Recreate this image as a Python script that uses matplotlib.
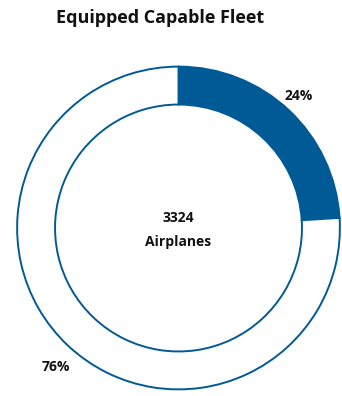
import matplotlib
matplotlib.use("Agg")
import matplotlib.pyplot as plt

# data
labels = ["Equipped", "Not equipped"]
shares = [24, 76]
total_airplanes = 3324
title = "Equipped Capable Fleet"

blue = "#005a96"
plt.rcParams["font.family"] = ["Open Sans", "DejaVu Sans"]

fig = plt.figure(figsize=(3.42, 3.96), dpi=100)
W, H = 342, 396
cx, cy, r = 178.5, 228, 163
ax = fig.add_axes([(cx - r) / W, 1 - (cy + r) / H, 2 * r / W, 2 * r / H])

ax.pie(shares, colors=[blue, "white"], startangle=90, counterclock=False,
       radius=1, wedgeprops=dict(width=0.235, edgecolor=blue, linewidth=1.4))
ax.set_xlim(-1.01, 1.01)
ax.set_ylim(-1.01, 1.01)
ax.axis("off")

ax.text(0.745, 0.816, f"{shares[0]}%", ha="center", va="center",
        fontsize=10, fontweight="bold", color="#111111")
ax.text(-0.758, -0.859, f"{shares[1]}%", ha="center", va="center",
        fontsize=10, fontweight="bold", color="#111111")
ax.text(0, 0.06, f"{total_airplanes}", ha="center", va="center",
        fontsize=10, fontweight="bold", color="#111111")
ax.text(0, -0.085, "Airplanes", ha="center", va="center",
        fontsize=10, fontweight="bold", color="#111111")

fig.text(160 / W, 1 - 18 / H, title, ha="center", va="center",
         fontsize=13, fontweight="bold", color="#111111")

fig.savefig("out.png", dpi=100)
